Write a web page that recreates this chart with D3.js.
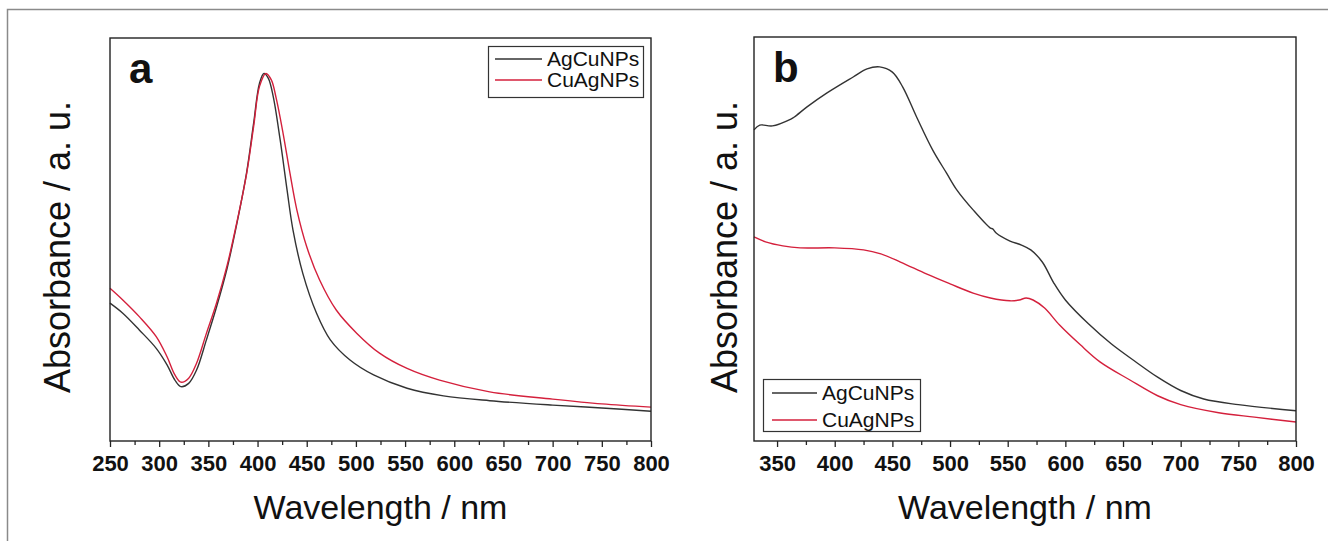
<!DOCTYPE html>
<html>
<head>
<meta charset="utf-8">
<script src="https://cdn.jsdelivr.net/npm/d3@7"></script>
<style>
  body { margin: 0; background: #fff; }
  svg { display: block; }
  text { font-family: "Liberation Sans", Arial, sans-serif; }
</style>
</head>
<body>
<svg id="chart" width="1328" height="541"></svg>
<script>
// panel a : wavelength (nm) / absorbance (a.u.)
let aAgCuNm  = [250, 263, 280, 297, 308, 316, 322, 330, 338, 348, 358, 369, 379, 389, 396, 402, 406.5, 411, 416, 423, 430, 436, 446, 460, 474, 494, 518, 552, 589, 636, 700, 750, 800]
let aAgCuAbs = [0.342, 0.317, 0.275, 0.230, 0.189, 0.151, 0.135, 0.143, 0.176, 0.251, 0.330, 0.428, 0.540, 0.668, 0.788, 0.888, 0.912, 0.900, 0.854, 0.747, 0.623, 0.524, 0.416, 0.317, 0.251, 0.201, 0.164, 0.131, 0.112, 0.100, 0.089, 0.082, 0.074]
let aCuAgNm  = [250, 263, 280, 297, 308, 316, 322, 330, 338, 348, 358, 369, 379, 389, 396, 402, 408.5, 414, 419, 426, 433, 440, 450, 463, 480, 501, 524, 552, 585, 636, 700, 750, 800]
let aCuAgAbs = [0.379, 0.350, 0.308, 0.259, 0.209, 0.164, 0.146, 0.156, 0.193, 0.267, 0.340, 0.435, 0.543, 0.665, 0.780, 0.880, 0.912, 0.896, 0.850, 0.763, 0.664, 0.573, 0.482, 0.400, 0.325, 0.267, 0.218, 0.180, 0.151, 0.122, 0.104, 0.092, 0.084]

// panel b
let bAgCuNm  = [330, 335, 346, 362, 365, 376, 393, 416, 428, 439, 450, 459, 471, 485, 497, 506, 520, 535, 537, 540, 552, 562, 570, 580, 590, 600, 620, 640, 660, 680, 700, 720, 750, 800]
let bAgCuAbs = [0.770, 0.782, 0.780, 0.797, 0.802, 0.827, 0.861, 0.901, 0.921, 0.926, 0.913, 0.876, 0.802, 0.720, 0.663, 0.621, 0.572, 0.527, 0.525, 0.515, 0.495, 0.485, 0.473, 0.443, 0.391, 0.349, 0.290, 0.240, 0.198, 0.158, 0.125, 0.104, 0.090, 0.075]
let bCuAgNm  = [330, 340, 355, 370, 400, 425, 440, 457, 480, 500, 520, 535, 552, 560, 566, 572, 582, 595, 613, 630, 656, 680, 700, 733, 764, 800]
let bCuAgAbs = [0.505, 0.493, 0.483, 0.478, 0.478, 0.473, 0.463, 0.443, 0.413, 0.389, 0.366, 0.354, 0.347, 0.349, 0.354, 0.349, 0.329, 0.287, 0.238, 0.196, 0.151, 0.112, 0.090, 0.070, 0.059, 0.047]

let seriesNames = ["AgCuNPs", "CuAgNPs"]
let seriesColors = ["#333333", "#d4203c"]

let aMajorTicks = d3.range(250, 801, 50)
let aMinorTicks = d3.range(275, 800, 50)
let bMajorTicks = d3.range(350, 801, 50)
let bMinorTicks = d3.range(375, 800, 50)

let svg = d3.select("#chart")

// outer frame of the figure
svg.append("rect")
    .attr("x", 7.5).attr("y", 9.5)
    .attr("width", 1400).attr("height", 600)
    .attr("fill", "none")
    .attr("stroke", "#8a8a8a")
    .attr("stroke-width", 1.5)

let panels = [
    { label: "a", left: 110, right: 651, top: 38, bottom: 441, domain: [250, 800],
      major: aMajorTicks, minor: aMinorTicks,
      series: [[aAgCuNm, aAgCuAbs], [aCuAgNm, aCuAgAbs]],
      legend: { x: 488, y: 46, w: 155, h: 51, lineX: 495, lineW: 47, textX: 547, rowY: [59, 80] },
      yTitleX: 70 },
    { label: "b", left: 754, right: 1296, top: 37, bottom: 441, domain: [330, 800],
      major: bMajorTicks, minor: bMinorTicks,
      series: [[bAgCuNm, bAgCuAbs], [bCuAgNm, bCuAgAbs]],
      legend: { x: 763, y: 379, w: 157, h: 52, lineX: 772, lineW: 45, textX: 822, rowY: [393, 420] },
      yTitleX: 737 }
]

panels.forEach(function(p) {
    let x = d3.scaleLinear().domain(p.domain).range([p.left, p.right])
    let y = d3.scaleLinear().domain([0, 1]).range([p.bottom, p.top])
    let g = svg.append("g")

    //curves
    let line = d3.line()
        .x(function(d) { return x(d[0]) })
        .y(function(d) { return y(d[1]) })
        .curve(d3.curveCatmullRom.alpha(0.5))
    p.series.forEach(function(s, i) {
        let pts = s[0].map(function(n, k) { return [n, s[1][k]] })
        g.append("path")
            .datum(pts)
            .attr("d", line)
            .attr("fill", "none")
            .attr("stroke", seriesColors[i])
            .attr("stroke-width", 1.4)
    })

    // plot box
    g.append("rect")
        .attr("x", p.left).attr("y", p.top)
        .attr("width", p.right - p.left).attr("height", p.bottom - p.top)
        .attr("fill", "none")
        .attr("stroke", "#222")
        .attr("stroke-width", 1.4)

    // x axis, major + minor ticks
    let axisMajor = d3.axisBottom(x).tickValues(p.major).tickSize(6).tickSizeOuter(0).tickPadding(8)
    let axisMinor = d3.axisBottom(x).tickValues(p.minor).tickSize(4).tickSizeOuter(0).tickFormat("")
    let gx = g.append("g").attr("transform", "translate(0," + p.bottom + ")").call(axisMajor)
    g.append("g").attr("transform", "translate(0," + p.bottom + ")").call(axisMinor)
        .call(function(a) { a.select(".domain").remove() })
    g.selectAll(".tick line").attr("stroke", "#222").attr("stroke-width", 1.3)
    gx.select(".domain").remove()
    gx.selectAll(".tick text")
        .attr("fill", "#111")
        .style("font-family", "'Liberation Sans Narrow', 'Arial Narrow', 'Liberation Sans', sans-serif")
        .style("font-size", "22px")
        .style("font-weight", "bold")

    // panel letter
    g.append("text")
        .attr("x", p.left + 19).attr("y", p.top + 45)
        .style("font-size", "42px")
        .style("font-weight", "bold")
        .attr("fill", "#111")
        .text(p.label)

    // axis titles
    g.append("text")
        .attr("x", (p.left + p.right) / 2).attr("y", 519)
        .attr("text-anchor", "middle")
        .style("font-size", "34px")
        .attr("fill", "#111")
        .text("Wavelength / nm")
    g.append("text")
        .attr("transform", "translate(" + p.yTitleX + "," + 247 + ") rotate(-90)")
        .attr("text-anchor", "middle")
        .style("font-size", "36px")
        .attr("fill", "#111")
        .text("Absorbance / a. u.")

    // legend
    let L = p.legend
    g.append("rect")
        .attr("x", L.x + 0.5).attr("y", L.y + 0.5)
        .attr("width", L.w).attr("height", L.h)
        .attr("fill", "#fff")
        .attr("stroke", "#333")
        .attr("stroke-width", 1.2)
    seriesNames.forEach(function(name, i) {
        g.append("line")
            .attr("x1", L.lineX).attr("x2", L.lineX + L.lineW)
            .attr("y1", L.rowY[i]).attr("y2", L.rowY[i])
            .attr("stroke", seriesColors[i])
            .attr("stroke-width", 1.4)
        g.append("text")
            .attr("x", L.textX).attr("y", L.rowY[i] + 7)
            .style("font-size", "21px")
            .attr("fill", "#111")
            .text(name)
    })
})
</script>
</body>
</html>
